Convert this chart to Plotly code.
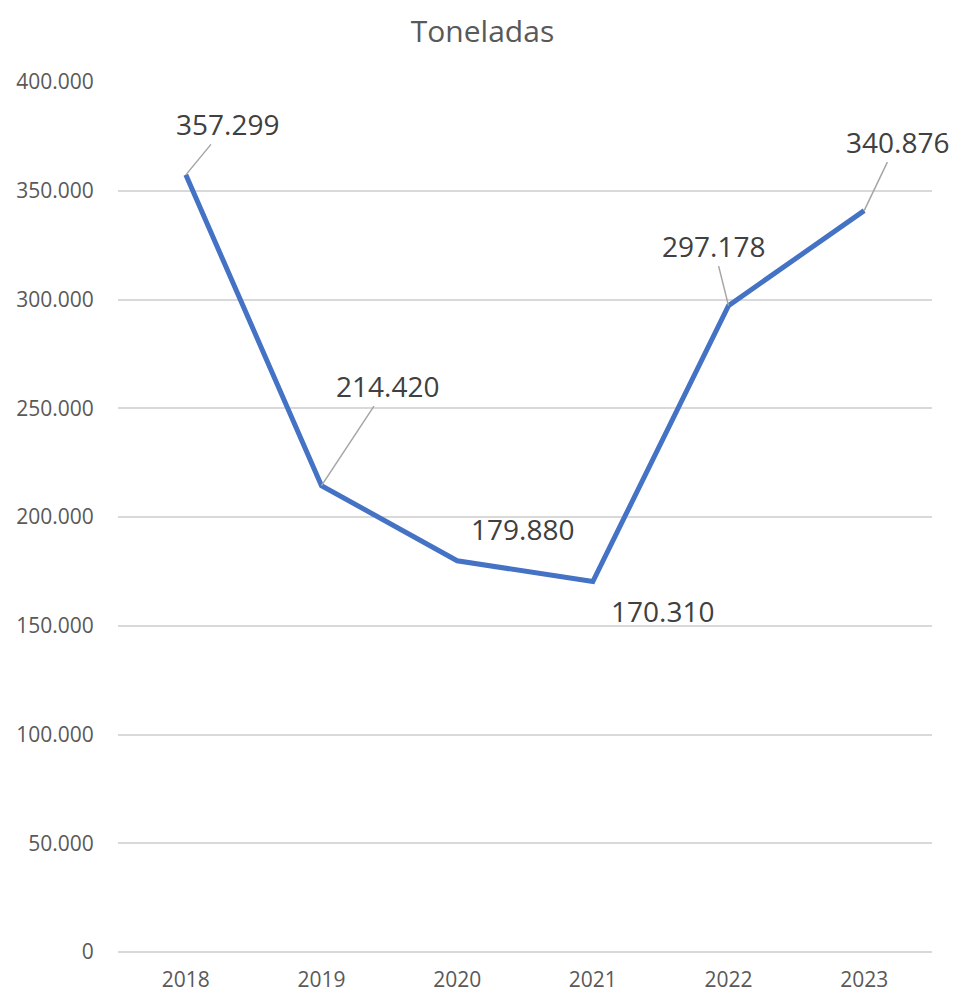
import plotly.graph_objects as go

years = ["2018", "2019", "2020", "2021", "2022", "2023"]
toneladas = [357299, 214420, 179880, 170310, 297178, 340876]
y_ticks = [0, 50000, 100000, 150000, 200000, 250000, 300000, 350000, 400000]

def fmt(v):
    return f"{v:,}".replace(",", ".")

# label offsets (pixels) and whether a leader line is drawn
label_style = [
    dict(ax=42, ay=-51, arrow=True),
    dict(ax=66, ay=-100, arrow=True),
    dict(ax=65, ay=-32, arrow=False),
    dict(ax=70, ay=29, arrow=False),
    dict(ax=-15, ay=-60, arrow=True),
    dict(ax=33, ay=-69, arrow=True),
]

x_idx = list(range(len(years)))

fig = go.Figure()
fig.add_trace(go.Scatter(
    x=x_idx, y=toneladas, mode="lines",
    line=dict(color="#4472C4", width=5),
    hoverinfo="skip", showlegend=False,
))

annotations = []
for i, (v, st) in enumerate(zip(toneladas, label_style)):
    base = dict(x=i, y=v, xref="x", yref="y", text=fmt(v),
                font=dict(family="Open Sans", size=28, color="#404040"))
    if st["arrow"]:
        base.update(showarrow=True, ax=st["ax"], ay=st["ay"], axref="pixel", ayref="pixel",
                    arrowhead=0, arrowwidth=1.5, arrowcolor="#A6A6A6", standoff=0, startstandoff=0)
    else:
        base.update(showarrow=False, xshift=st["ax"], yshift=-st["ay"])
    annotations.append(base)

fig.update_layout(
    width=949, height=985,
    margin=dict(l=110, r=25, t=74, b=41, autoexpand=False),
    paper_bgcolor="white", plot_bgcolor="white",
    separators=",.",
    title=dict(text="Toneladas", x=0.5, xref="container", xanchor="center",
               y=1 - 23 / 985, yref="container", yanchor="middle",
               font=dict(family="Open Sans", size=30, color="#595959")),
    annotations=annotations,
    xaxis=dict(
        tickmode="array", tickvals=x_idx, ticktext=years, automargin=False,
        range=[-0.5, 5.5], showgrid=False, zeroline=False, showline=False,
        ticks="outside", ticklen=9, tickcolor="rgba(0,0,0,0)",
        tickfont=dict(family="Open Sans", size=21, color="#595959"),
    ),
    yaxis=dict(
        range=[0, 400000], tickvals=y_ticks, tickformat=",.0f", automargin=False,
        showgrid=True, gridcolor="#D9D9D9", gridwidth=1.5,
        zeroline=True, zerolinecolor="#D9D9D9", zerolinewidth=1.5, showline=False,
        ticks="outside", ticklen=19, tickcolor="rgba(0,0,0,0)",
        tickfont=dict(family="Open Sans", size=21, color="#595959"),
    ),
)

fig.write_html("out.html")
